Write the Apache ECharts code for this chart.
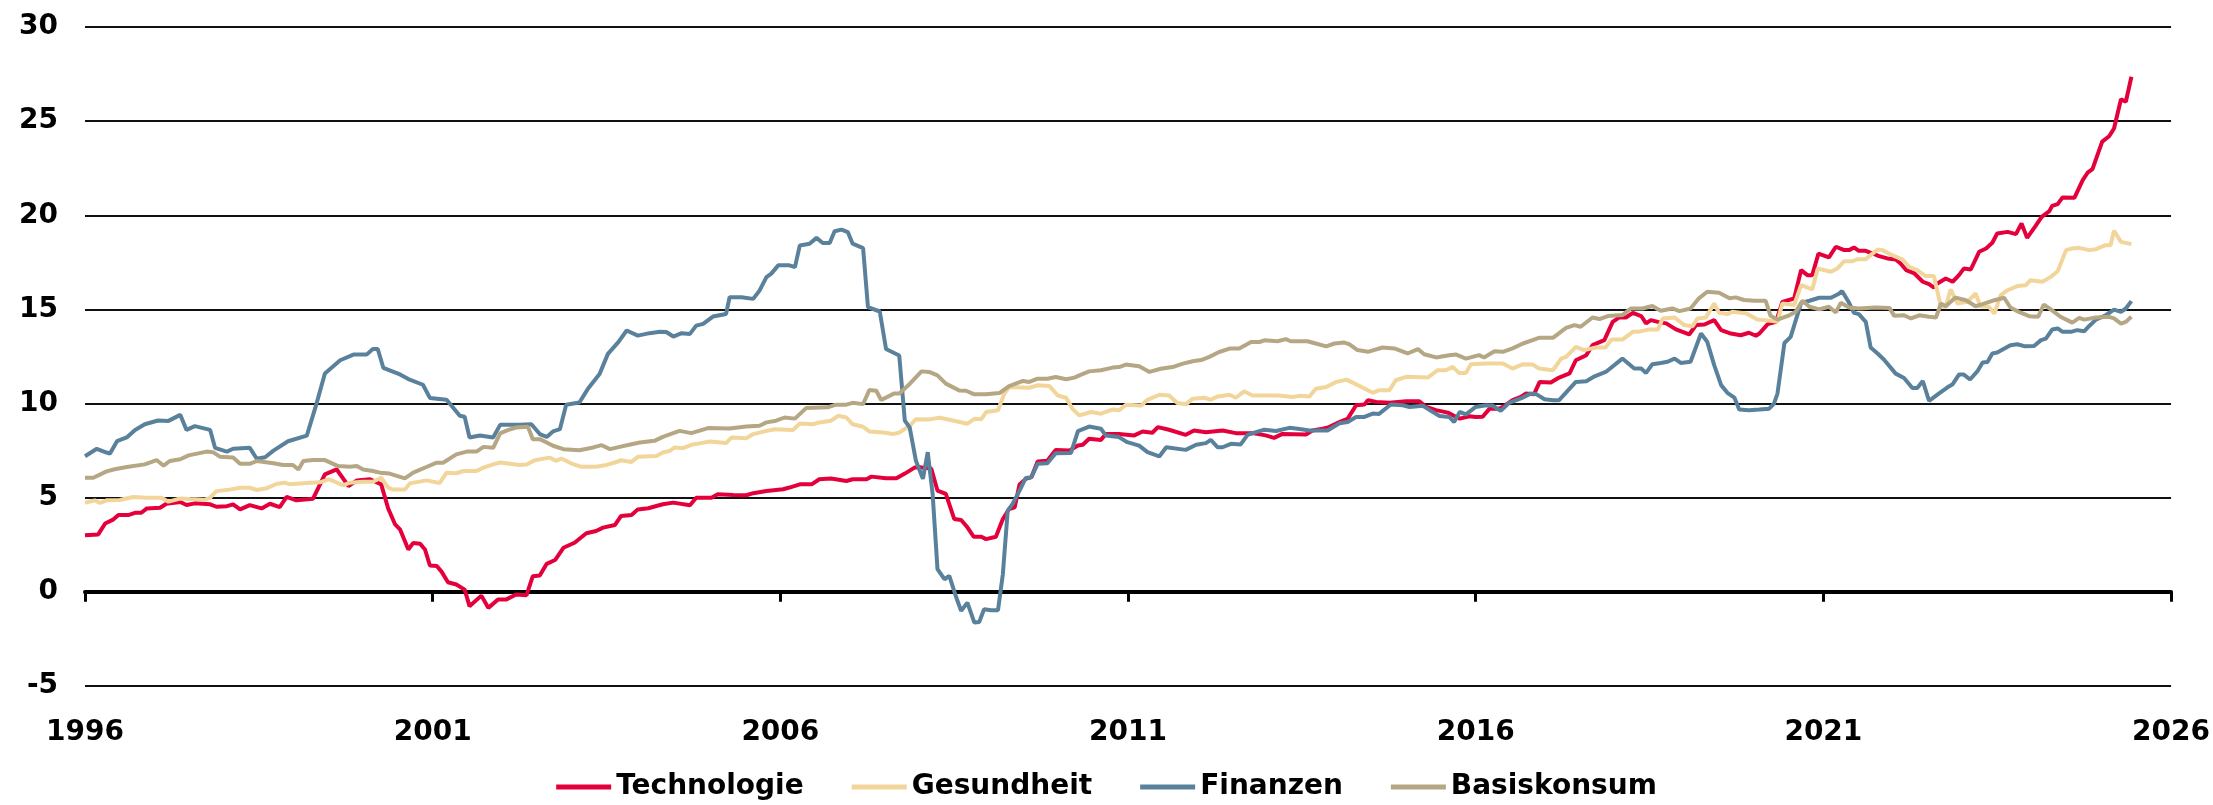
<!DOCTYPE html>
<html>
<head>
<meta charset="utf-8">
<title>Sektoren</title>
<script src="https://cdn.jsdelivr.net/npm/echarts@6/dist/echarts.min.js"></script>
<style>
  html, body { margin: 0; padding: 0; background: #fff; }
  #chart { width: 2213px; height: 805px; }
</style>
</head>
<body>
<div id="chart"></div>
<script>
// Achsen
var yearTicks = [1996, 2001, 2006, 2011, 2016, 2021, 2026];
var valueTicks = [-5, 0, 5, 10, 15, 20, 25, 30];
var seriesNames = ['Technologie', 'Gesundheit', 'Finanzen', 'Basiskonsum'];
var seriesColors = ['#e4003b', '#f2d59a', '#5a819b', '#b5a784'];

// Technologie [Jahr, Wert]
var techData = [
  [1996.00,3.01],[1996.19,3.05],[1996.29,3.63],[1996.41,3.85],[1996.48,4.08],[1996.62,4.08],[1996.72,4.2],[1996.81,4.2],
  [1996.89,4.43],[1997.08,4.47],[1997.17,4.68],[1997.37,4.77],[1997.46,4.61],[1997.58,4.7],[1997.80,4.65],[1997.89,4.52],
  [1998.04,4.55],[1998.13,4.65],[1998.23,4.38],[1998.37,4.61],[1998.54,4.43],[1998.66,4.68],[1998.80,4.5],[1998.90,5.04],
  [1999.04,4.86],[1999.28,4.95],[1999.45,6.24],[1999.62,6.5],[1999.79,5.62],[1999.91,5.92],[2000.10,5.98],[2000.26,5.71],
  [2000.36,4.43],[2000.46,3.58],[2000.53,3.32],[2000.65,2.25],[2000.72,2.6],[2000.82,2.55],[2000.89,2.25],[2000.96,1.4],
  [2001.06,1.37],[2001.13,1.06],[2001.22,0.51],[2001.34,0.39],[2001.46,0.12],[2001.53,-0.76],[2001.70,-0.2],[2001.80,-0.85],
  [2001.94,-0.41],[2002.06,-0.4],[2002.20,-0.14],[2002.35,-0.18],[2002.44,0.83],[2002.54,0.87],[2002.64,1.49],[2002.76,1.69],
  [2002.88,2.34],[2003.04,2.61],[2003.21,3.11],[2003.35,3.23],[2003.45,3.41],[2003.62,3.55],[2003.71,4.03],[2003.86,4.08],
  [2003.95,4.38],[2004.10,4.44],[2004.31,4.65],[2004.46,4.74],[2004.70,4.6],[2004.79,5.0],[2005.01,5.0],[2005.10,5.18],
  [2005.32,5.15],[2005.51,5.13],[2005.61,5.24],[2005.80,5.36],[2006.04,5.45],[2006.13,5.54],[2006.28,5.71],[2006.45,5.71],
  [2006.56,5.98],[2006.73,6.02],[2006.95,5.89],[2007.04,5.98],[2007.24,5.98],[2007.31,6.12],[2007.52,6.03],[2007.67,6.03],
  [2007.79,6.28],[2007.93,6.6],[2008.00,6.62],[2008.17,6.55],[2008.26,5.38],[2008.38,5.2],[2008.50,3.87],[2008.60,3.82],
  [2008.69,3.43],[2008.78,2.93],[2008.89,2.93],[2008.96,2.8],[2009.10,2.93],[2009.20,3.87],[2009.29,4.4],[2009.37,4.49],
  [2009.44,5.7],[2009.53,6.0],[2009.61,6.09],[2009.70,6.92],[2009.84,6.97],[2009.96,7.54],[2010.16,7.51],[2010.28,7.77],
  [2010.35,7.81],[2010.44,8.13],[2010.61,8.07],[2010.68,8.39],[2010.87,8.39],[2011.09,8.31],[2011.21,8.52],[2011.35,8.45],
  [2011.43,8.75],[2011.59,8.61],[2011.83,8.34],[2011.95,8.57],[2012.12,8.48],[2012.36,8.57],[2012.55,8.43],[2012.79,8.43],
  [2012.98,8.31],[2013.10,8.18],[2013.22,8.39],[2013.56,8.36],[2013.65,8.57],[2013.80,8.66],[2013.89,8.75],[2014.04,9.02],
  [2014.16,9.2],[2014.28,9.91],[2014.40,9.95],[2014.45,10.18],[2014.57,10.09],[2014.76,10.05],[2015.00,10.12],[2015.19,10.12],
  [2015.29,9.82],[2015.43,9.65],[2015.60,9.52],[2015.72,9.29],[2015.77,9.2],[2015.91,9.33],[2016.00,9.29],[2016.10,9.3],
  [2016.20,9.73],[2016.34,9.73],[2016.41,9.86],[2016.53,10.18],[2016.65,10.35],[2016.72,10.53],[2016.84,10.5],[2016.92,11.15],
  [2017.08,11.12],[2017.20,11.38],[2017.35,11.6],[2017.44,12.3],[2017.59,12.57],[2017.68,13.1],[2017.85,13.37],[2017.97,14.34],
  [2018.06,14.57],[2018.16,14.57],[2018.26,14.82],[2018.38,14.65],[2018.45,14.26],[2018.52,14.43],[2018.62,14.34],[2018.74,14.26],
  [2018.88,13.94],[2019.07,13.67],[2019.17,14.17],[2019.29,14.2],[2019.43,14.43],[2019.53,13.9],[2019.67,13.72],[2019.81,13.63],
  [2019.93,13.76],[2020.03,13.6],[2020.08,13.72],[2020.20,14.22],[2020.32,14.34],[2020.41,15.4],[2020.58,15.58],[2020.68,17.09],
  [2020.77,16.82],[2020.84,16.82],[2020.93,17.97],[2021.08,17.76],[2021.18,18.33],[2021.30,18.15],[2021.37,18.15],[2021.44,18.29],
  [2021.51,18.11],[2021.61,18.11],[2021.71,17.97],[2021.80,17.83],[2021.92,17.71],[2022.04,17.65],[2022.11,17.44],[2022.19,17.09],
  [2022.31,16.91],[2022.43,16.47],[2022.52,16.34],[2022.59,16.16],[2022.64,16.38],[2022.76,16.64],[2022.86,16.47],[2022.95,16.82],
  [2023.02,17.17],[2023.12,17.12],[2023.24,18.06],[2023.34,18.24],[2023.43,18.54],[2023.50,19.03],[2023.65,19.12],[2023.77,19.0],
  [2023.85,19.57],[2023.93,18.8],[2024.05,19.42],[2024.14,19.92],[2024.25,20.22],[2024.29,20.5],[2024.37,20.59],[2024.44,20.95],
  [2024.61,20.93],[2024.73,21.87],[2024.80,22.26],[2024.87,22.45],[2025.01,23.91],[2025.11,24.2],[2025.18,24.61],[2025.28,26.16],
  [2025.35,26.03],[2025.43,27.36]
];

// Gesundheit [Jahr, Wert]
var healthData = [
  [1996.00,4.73],[1996.14,4.86],[1996.22,4.73],[1996.31,4.86],[1996.50,4.88],[1996.69,5.04],[1996.89,5.0],[1997.10,5.0],
  [1997.20,4.79],[1997.37,4.96],[1997.51,4.93],[1997.72,4.89],[1997.80,5.0],[1997.89,5.35],[1998.08,5.43],[1998.23,5.53],
  [1998.37,5.53],[1998.47,5.41],[1998.61,5.5],[1998.76,5.74],[1998.87,5.8],[1998.95,5.71],[1999.19,5.78],[1999.38,5.82],
  [1999.50,5.98],[1999.57,5.89],[1999.71,5.66],[1999.81,5.8],[2000.00,5.85],[2000.14,5.85],[2000.26,6.06],[2000.36,5.53],
  [2000.43,5.43],[2000.60,5.43],[2000.67,5.76],[2000.91,5.92],[2001.10,5.78],[2001.20,6.33],[2001.34,6.3],[2001.44,6.42],
  [2001.63,6.42],[2001.73,6.6],[2001.87,6.77],[2001.97,6.87],[2002.25,6.74],[2002.35,6.76],[2002.47,6.99],[2002.68,7.13],
  [2002.78,6.96],[2002.85,7.08],[2003.02,6.78],[2003.14,6.64],[2003.35,6.64],[2003.50,6.74],[2003.62,6.87],[2003.71,6.99],
  [2003.86,6.9],[2003.95,7.17],[2004.22,7.22],[2004.31,7.4],[2004.41,7.49],[2004.48,7.67],[2004.60,7.63],[2004.72,7.81],
  [2004.86,7.9],[2004.98,7.99],[2005.22,7.9],[2005.30,8.2],[2005.51,8.16],[2005.61,8.38],[2005.80,8.55],[2005.92,8.64],
  [2006.18,8.59],[2006.28,8.94],[2006.47,8.9],[2006.56,9.0],[2006.73,9.09],[2006.83,9.35],[2006.95,9.26],[2007.04,8.9],
  [2007.19,8.77],[2007.28,8.52],[2007.48,8.46],[2007.62,8.38],[2007.71,8.46],[2007.86,8.82],[2007.95,9.17],[2008.14,9.16],
  [2008.29,9.25],[2008.48,9.1],[2008.69,8.93],[2008.79,9.19],[2008.89,9.17],[2008.96,9.55],[2009.13,9.64],[2009.22,10.52],
  [2009.29,10.88],[2009.58,10.84],[2009.70,10.97],[2009.87,10.93],[2009.99,10.43],[2010.11,10.31],[2010.20,9.72],[2010.30,9.37],
  [2010.47,9.55],[2010.61,9.46],[2010.78,9.69],[2010.87,9.64],[2010.97,9.94],[2011.19,9.9],[2011.28,10.2],[2011.45,10.47],
  [2011.59,10.43],[2011.71,10.03],[2011.83,9.96],[2011.93,10.26],[2012.10,10.31],[2012.19,10.2],[2012.29,10.38],[2012.46,10.47],
  [2012.55,10.31],[2012.67,10.65],[2012.79,10.43],[2013.17,10.43],[2013.37,10.35],[2013.46,10.41],[2013.61,10.38],[2013.70,10.79],
  [2013.85,10.88],[2013.99,11.14],[2014.14,11.27],[2014.26,11.06],[2014.35,10.89],[2014.52,10.57],[2014.61,10.71],[2014.76,10.71],
  [2014.85,11.24],[2015.00,11.42],[2015.31,11.38],[2015.45,11.77],[2015.57,11.77],[2015.67,11.95],[2015.76,11.63],[2015.86,11.63],
  [2015.93,12.09],[2016.15,12.13],[2016.39,12.13],[2016.53,11.86],[2016.68,12.09],[2016.82,12.07],[2016.91,11.86],[2017.11,11.77],
  [2017.23,12.39],[2017.30,12.48],[2017.44,13.01],[2017.56,12.84],[2017.73,12.98],[2017.87,12.98],[2017.95,13.4],[2018.11,13.4],
  [2018.26,13.81],[2018.33,13.81],[2018.50,13.94],[2018.62,13.94],[2018.69,14.52],[2018.86,14.57],[2019.00,14.17],[2019.12,14.11],
  [2019.19,14.52],[2019.31,14.57],[2019.43,15.32],[2019.50,14.82],[2019.62,14.75],[2019.69,14.88],[2019.89,14.79],[2020.05,14.47],
  [2020.27,14.39],[2020.34,14.34],[2020.41,15.31],[2020.58,15.23],[2020.68,16.29],[2020.84,16.06],[2020.92,17.17],[2021.11,17.0],
  [2021.20,17.17],[2021.30,17.56],[2021.42,17.56],[2021.49,17.67],[2021.61,17.67],[2021.78,18.18],[2021.85,18.15],[2021.99,17.88],
  [2022.14,17.65],[2022.23,17.26],[2022.35,17.09],[2022.47,16.77],[2022.59,16.77],[2022.69,15.14],[2022.76,15.14],[2022.83,16.06],
  [2022.93,15.31],[2023.07,15.4],[2023.19,15.85],[2023.26,15.17],[2023.38,15.14],[2023.46,14.78],[2023.55,15.76],[2023.65,16.02],
  [2023.79,16.24],[2023.91,16.29],[2023.98,16.55],[2024.15,16.47],[2024.27,16.73],[2024.37,17.03],[2024.49,18.15],[2024.58,18.24],
  [2024.68,18.27],[2024.82,18.15],[2024.92,18.2],[2025.06,18.41],[2025.13,18.41],[2025.18,19.18],[2025.28,18.59],[2025.43,18.47]
];

// Finanzen [Jahr, Wert]
var finData = [
  [1996.00,7.2],[1996.17,7.6],[1996.31,7.4],[1996.36,7.35],[1996.46,8.0],[1996.60,8.2],[1996.72,8.6],[1996.86,8.9],
  [1997.05,9.1],[1997.20,9.08],[1997.37,9.4],[1997.46,8.6],[1997.58,8.8],[1997.80,8.6],[1997.87,7.65],[1998.04,7.45],
  [1998.13,7.6],[1998.37,7.65],[1998.47,7.07],[1998.59,7.15],[1998.71,7.5],[1998.92,8.0],[1999.19,8.3],[1999.33,10.0],
  [1999.45,11.6],[1999.67,12.3],[1999.86,12.6],[2000.05,12.6],[2000.14,12.9],[2000.21,12.9],[2000.29,11.9],[2000.53,11.55],
  [2000.65,11.3],[2000.86,11.0],[2000.96,10.3],[2001.20,10.2],[2001.39,9.35],[2001.46,9.3],[2001.53,8.2],[2001.68,8.3],
  [2001.87,8.2],[2001.97,8.87],[2002.25,8.87],[2002.42,8.9],[2002.54,8.38],[2002.64,8.23],[2002.73,8.52],[2002.83,8.64],
  [2002.92,9.94],[2003.11,10.06],[2003.23,10.77],[2003.40,11.57],[2003.52,12.64],[2003.67,13.26],[2003.79,13.88],[2003.95,13.61],
  [2004.12,13.74],[2004.27,13.82],[2004.36,13.8],[2004.46,13.56],[2004.58,13.74],[2004.70,13.7],[2004.79,14.14],[2004.89,14.23],
  [2005.03,14.62],[2005.22,14.76],[2005.27,15.65],[2005.44,15.65],[2005.61,15.56],[2005.70,16.0],[2005.80,16.72],[2005.87,16.9],
  [2005.97,17.34],[2006.13,17.34],[2006.21,17.25],[2006.28,18.4],[2006.42,18.49],[2006.52,18.8],[2006.61,18.53],[2006.71,18.53],
  [2006.78,19.15],[2006.88,19.24],[2006.97,19.11],[2007.04,18.49],[2007.19,18.26],[2007.26,15.12],[2007.43,14.89],[2007.52,12.9],
  [2007.71,12.55],[2007.79,9.09],[2007.86,8.73],[2007.95,6.96],[2008.05,6.0],[2008.12,7.42],[2008.19,5.2],[2008.26,1.21],
  [2008.36,0.67],[2008.43,0.85],[2008.53,-0.3],[2008.60,-1.01],[2008.69,-0.57],[2008.79,-1.63],[2008.86,-1.6],[2008.93,-0.92],
  [2009.03,-0.98],[2009.13,-0.98],[2009.20,0.94],[2009.27,4.31],[2009.34,4.67],[2009.44,5.38],[2009.53,6.05],[2009.61,6.09],
  [2009.70,6.8],[2009.84,6.83],[2009.96,7.36],[2010.18,7.38],[2010.28,8.54],[2010.44,8.78],[2010.61,8.66],[2010.68,8.31],
  [2010.87,8.22],[2010.99,7.95],[2011.16,7.77],[2011.28,7.42],[2011.45,7.19],[2011.55,7.68],[2011.83,7.54],[2011.98,7.81],
  [2012.12,7.9],[2012.19,8.07],[2012.29,7.68],[2012.36,7.68],[2012.48,7.86],[2012.62,7.83],[2012.72,8.34],[2012.84,8.48],
  [2012.96,8.61],[2013.13,8.54],[2013.32,8.71],[2013.44,8.66],[2013.61,8.57],[2013.87,8.57],[2014.04,8.95],[2014.16,9.02],
  [2014.28,9.29],[2014.40,9.29],[2014.52,9.47],[2014.61,9.45],[2014.78,9.95],[2014.95,9.91],[2015.05,9.82],[2015.24,9.88],
  [2015.38,9.56],[2015.48,9.34],[2015.62,9.29],[2015.69,9.02],[2015.77,9.56],[2015.86,9.43],[2016.00,9.82],[2016.15,9.91],
  [2016.24,9.9],[2016.36,9.61],[2016.48,10.04],[2016.65,10.27],[2016.79,10.53],[2016.87,10.5],[2016.99,10.23],[2017.11,10.18],
  [2017.20,10.18],[2017.44,11.15],[2017.59,11.19],[2017.71,11.45],[2017.87,11.68],[2018.11,12.39],[2018.28,11.86],[2018.38,11.86],
  [2018.45,11.63],[2018.54,12.09],[2018.66,12.16],[2018.76,12.22],[2018.86,12.39],[2018.95,12.16],[2019.09,12.22],[2019.24,13.72],
  [2019.33,13.28],[2019.43,12.04],[2019.53,10.98],[2019.62,10.57],[2019.72,10.32],[2019.79,9.68],[2019.93,9.65],[2020.08,9.68],
  [2020.22,9.73],[2020.29,10.0],[2020.34,10.53],[2020.44,13.22],[2020.53,13.54],[2020.68,15.35],[2020.80,15.46],[2020.94,15.62],
  [2021.11,15.62],[2021.23,15.85],[2021.27,15.97],[2021.37,15.35],[2021.44,14.82],[2021.51,14.75],[2021.61,14.34],[2021.68,12.98],
  [2021.78,12.66],[2021.87,12.34],[2022.04,11.59],[2022.16,11.36],[2022.28,10.83],[2022.35,10.83],[2022.43,11.2],[2022.52,10.14],
  [2022.66,10.53],[2022.78,10.85],[2022.86,11.03],[2022.95,11.54],[2023.02,11.54],[2023.11,11.28],[2023.22,11.74],[2023.29,12.18],
  [2023.36,12.21],[2023.43,12.66],[2023.50,12.71],[2023.69,13.1],[2023.79,13.15],[2023.89,13.05],[2024.03,13.06],[2024.13,13.37],
  [2024.20,13.45],[2024.29,13.93],[2024.37,13.99],[2024.44,13.81],[2024.56,13.81],[2024.65,13.9],[2024.75,13.84],[2024.82,14.11],
  [2024.92,14.46],[2025.06,14.69],[2025.18,14.99],[2025.28,14.87],[2025.35,15.05],[2025.43,15.44]
];

// Basiskonsum [Jahr, Wert]
var staplesData = [
  [1996.00,6.06],[1996.12,6.06],[1996.31,6.4],[1996.41,6.5],[1996.60,6.63],[1996.86,6.77],[1997.03,7.0],[1997.13,6.7],
  [1997.22,6.95],[1997.37,7.04],[1997.49,7.25],[1997.75,7.45],[1997.84,7.42],[1997.94,7.18],[1998.13,7.13],[1998.23,6.8],
  [1998.37,6.8],[1998.47,6.95],[1998.71,6.83],[1998.85,6.74],[1998.99,6.74],[1999.07,6.5],[1999.14,6.95],[1999.28,7.0],
  [1999.45,7.0],[1999.64,6.68],[1999.81,6.65],[1999.91,6.68],[2000.00,6.5],[2000.14,6.42],[2000.24,6.33],[2000.38,6.28],
  [2000.60,6.03],[2000.72,6.33],[2000.91,6.63],[2001.06,6.86],[2001.15,6.86],[2001.34,7.3],[2001.49,7.45],[2001.63,7.45],
  [2001.73,7.7],[2001.87,7.65],[2001.97,8.42],[2002.08,8.59],[2002.20,8.73],[2002.37,8.77],[2002.44,8.11],[2002.54,8.11],
  [2002.64,7.93],[2002.73,7.76],[2002.88,7.58],[2003.11,7.52],[2003.31,7.67],[2003.43,7.79],[2003.55,7.58],[2003.69,7.7],
  [2003.86,7.84],[2003.98,7.93],[2004.19,8.02],[2004.31,8.23],[2004.55,8.55],[2004.72,8.43],[2004.96,8.7],[2005.27,8.68],
  [2005.51,8.78],[2005.70,8.82],[2005.80,9.0],[2005.94,9.09],[2006.06,9.26],[2006.21,9.2],[2006.37,9.76],[2006.68,9.8],
  [2006.80,9.94],[2006.95,9.94],[2007.04,10.04],[2007.19,9.97],[2007.28,10.72],[2007.38,10.68],[2007.45,10.19],[2007.64,10.54],
  [2007.71,10.54],[2007.86,11.04],[2008.03,11.71],[2008.14,11.68],[2008.26,11.5],[2008.38,11.06],[2008.57,10.7],[2008.67,10.68],
  [2008.79,10.49],[2008.96,10.49],[2009.15,10.56],[2009.29,10.93],[2009.49,11.2],[2009.58,11.15],[2009.70,11.32],[2009.84,11.32],
  [2009.96,11.41],[2010.11,11.29],[2010.23,11.38],[2010.30,11.5],[2010.44,11.71],[2010.61,11.77],[2010.78,11.91],[2010.87,11.94],
  [2010.97,12.07],[2011.16,11.98],[2011.31,11.68],[2011.47,11.85],[2011.64,11.94],[2011.79,12.12],[2011.93,12.25],[2012.07,12.33],
  [2012.17,12.48],[2012.31,12.74],[2012.46,12.92],[2012.60,12.92],[2012.77,13.27],[2012.89,13.27],[2012.96,13.36],[2013.15,13.31],
  [2013.27,13.42],[2013.34,13.31],[2013.58,13.31],[2013.70,13.19],[2013.85,13.04],[2013.97,13.19],[2014.11,13.24],[2014.18,13.16],
  [2014.30,12.84],[2014.45,12.75],[2014.66,12.98],[2014.83,12.93],[2015.02,12.66],[2015.17,12.89],[2015.26,12.62],[2015.43,12.45],
  [2015.62,12.57],[2015.72,12.6],[2015.86,12.39],[2016.05,12.57],[2016.12,12.45],[2016.27,12.78],[2016.39,12.75],[2016.53,12.93],
  [2016.68,13.19],[2016.91,13.49],[2017.11,13.49],[2017.30,14.02],[2017.42,14.17],[2017.51,14.08],[2017.68,14.57],[2017.78,14.49],
  [2017.90,14.65],[2018.11,14.7],[2018.23,15.05],[2018.40,15.05],[2018.54,15.18],[2018.66,14.93],[2018.83,15.05],[2018.93,14.91],
  [2019.09,15.05],[2019.21,15.59],[2019.33,15.94],[2019.50,15.89],[2019.65,15.59],[2019.74,15.64],[2019.86,15.5],[2020.01,15.46],
  [2020.17,15.46],[2020.24,14.66],[2020.34,14.46],[2020.51,14.69],[2020.60,14.87],[2020.70,15.46],[2020.80,15.14],[2020.94,15.0],
  [2021.08,15.14],[2021.18,14.84],[2021.25,15.35],[2021.37,15.1],[2021.51,15.05],[2021.75,15.1],[2021.95,15.08],[2022.02,14.66],
  [2022.16,14.69],[2022.26,14.52],[2022.38,14.69],[2022.52,14.61],[2022.62,14.57],[2022.69,15.31],[2022.76,15.17],[2022.90,15.63],
  [2023.05,15.49],[2023.19,15.17],[2023.29,15.28],[2023.46,15.49],[2023.60,15.62],[2023.69,15.1],[2023.81,14.87],[2023.96,14.64],
  [2024.09,14.61],[2024.17,15.26],[2024.27,15.0],[2024.41,14.61],[2024.58,14.3],[2024.68,14.55],[2024.75,14.46],[2024.92,14.57],
  [2025.11,14.61],[2025.18,14.52],[2025.28,14.25],[2025.35,14.34],[2025.43,14.61]
];

var g_font = 'DejaVu Sans';

initChart();

//初始化折线图
function initChart(){
	var allData = [techData, healthData, finData, staplesData];
	var series = [];
	for(var i = 0; i < seriesNames.length; i++){
		series.push({
			name: seriesNames[i],
			type: 'line',
			xAxisIndex: 0,
			yAxisIndex: 0,
			data: allData[i],
			symbol: 'none',
			showSymbol: false,
			smooth: false,
			lineStyle: { color: seriesColors[i], width: 4 },
			itemStyle: { color: seriesColors[i] }
		});
	}
	var chart = echarts.init(document.getElementById('chart'), null, { renderer: 'canvas' });
	var option = {
		animation: false,
		backgroundColor: '#fff',
		textStyle: { fontFamily: g_font },
		grid: { left: 85, right: 41, top: 27, bottom: 119, containLabel: false },
		legend: {
			data: seriesNames,
			left: 'center',
			top: 768,
			icon: 'rect',
			itemWidth: 55,
			itemHeight: 5,
			itemGap: 48,
			textStyle: { fontFamily: g_font, fontSize: 28, fontWeight: 'bold', color: '#000' }
		},
		xAxis: [
			{
				// Beschriftung unten
				type: 'value',
				position: 'bottom',
				min: yearTicks[0],
				max: yearTicks[yearTicks.length - 1],
				interval: yearTicks[1] - yearTicks[0],
				axisLine: { show: false, onZero: false },
				axisTick: { show: false },
				splitLine: { show: false },
				axisLabel: {
					margin: 33,
					fontFamily: g_font,
					fontSize: 28,
					fontWeight: 'bold',
					color: '#000',
					formatter: function(v){ return String(v); }
				}
			},
			{
				// Nulllinie mit Ticks
				type: 'value',
				position: 'top',
				min: yearTicks[0],
				max: yearTicks[yearTicks.length - 1],
				interval: yearTicks[1] - yearTicks[0],
				axisLine: { show: true, onZero: true, lineStyle: { color: '#000', width: 4 } },
				axisTick: { show: true, inside: true, length: 10, lineStyle: { color: '#000', width: 3 } },
				axisLabel: { show: false },
				splitLine: { show: false }
			}
		],
		yAxis: {
			type: 'value',
			min: valueTicks[0],
			max: valueTicks[valueTicks.length - 1],
			interval: valueTicks[1] - valueTicks[0],
			axisLine: { show: false },
			axisTick: { show: false },
			splitLine: { show: true, lineStyle: { color: '#111', width: 2 } },
			axisLabel: {
				margin: 27,
				fontFamily: g_font,
				fontSize: 28,
				fontWeight: 'bold',
				color: '#000'
			}
		},
		series: series
	};
	chart.setOption(option);
}
</script>
</body>
</html>
